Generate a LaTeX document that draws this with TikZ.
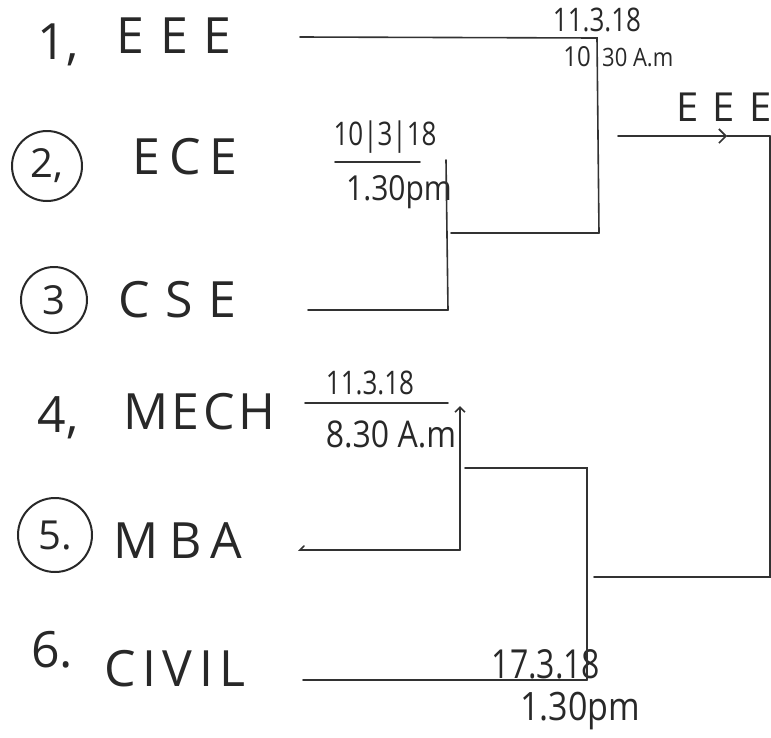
\documentclass[tikz,border=0pt]{standalone}
\usepackage{fontspec}
\setmainfont{Open Sans}
\usetikzlibrary{arrows.meta}
\definecolor{ink}{RGB}{40, 40, 40}
\definecolor{pencil}{RGB}{50, 50, 50}

\begin{document}
\begin{tikzpicture}[
    x=1pt, y=-1pt,
    every node/.style={text=ink, inner sep=0pt},
    team/.style={font=\fontsize{50}{50}\selectfont\addfontfeature{LetterSpace=#1}},
    team/.default=10,
    num/.style={font=\fontsize{50}{50}\selectfont},
    seed/.style={draw=ink, circle, line width=2pt, minimum size=70pt, font=\fontsize{40}{40}\selectfont},
    date/.style={font=\fontsize{#1}{#1}\selectfont, transform shape, yscale=1.25},
    date/.default=26,
    time/.style={font=\fontsize{#1}{#1}\selectfont, transform shape, yscale=1.15},
    time/.default=30,
    bracket/.style={draw=pencil, line width=1.6pt, line cap=round}
]
\useasboundingbox (0,0) rectangle (771,737);

% Seeds and teams
\node[num] (n1) at (58,45) {1,};
\node[team=32] (eee) at (174,36) {EEE};
\node[seed] (n2) at (47,166) {2,};
\node[team=17] (ece) at (185,157) {ECE};
\node[seed, minimum size=66pt] (n3) at (54,300) {3};
\node[team=31] (cse) at (177,300) {CSE};
\node[num] (n4) at (58,418) {4,};
\node[team=7] (mech) at (199,412) {MECH};
\node[seed, minimum size=74pt] (n5) at (55,535) {5.};
\node[team=20] (mba) at (178,541) {MBA};
\node[num] (n6) at (52,650) {6.};
\node[team=13] (civil) at (175,669) {CIVIL};

% Match dates
\node[date] (d1) at (597,20) {11.3.18};
\node[time=24, anchor=east] (t1a) at (591,57) {10};
\node[time=22, anchor=west] (t1b) at (602,58) {30 A.m};
\node[date] (d2) at (385,137) {10|3|18};
\node[time] (t2) at (399,192) {1.30pm};
\node[date] (d4) at (370,383) {11.3.18};
\node[time=32] (t4) at (391,434) {8.30 A.m};
\node[date=32] (d6) at (546,664) {17.3.18};
\node[time=34] (t6) at (580,711) {1.30pm};

% Winner
\node[font=\fontsize{40}{40}\selectfont\addfontfeature{LetterSpace=35}] (win) at (724,107) {EEE};

% Bracket points
\coordinate (eeeS) at (300,37);
\coordinate (eeeJ) at (597,38);
\coordinate (topJ) at (599,233);
\coordinate (eceS) at (335,162);
\coordinate (eceE) at (420,162);
\coordinate (eceJ) at (446,160);
\coordinate (cseS) at (308,310);
\coordinate (cseJ) at (448,310);
\coordinate (midS) at (451,233);
\coordinate (mechS) at (305,403);
\coordinate (mechE) at (448,403);
\coordinate (mbaJ) at (460,550);
\coordinate (mechJ) at (460,406);
\coordinate (mbaS) at (300,550);
\coordinate (mbaH) at (304,546);
\coordinate (lowS) at (465,468);
\coordinate (lowJ) at (587,468);
\coordinate (civS) at (303,680);
\coordinate (civJ) at (587,680);
\coordinate (finS) at (594,577);
\coordinate (finJ) at (770,577);
\coordinate (winJ) at (770,136);
\coordinate (winS) at (618,136);
\coordinate (winM) at (727,136);

% Upper half
\draw[bracket] (eeeS) -- (eeeJ) -- (topJ);
\draw[bracket] (eceS) -- (eceE);
\draw[bracket] (eceJ) -- (cseJ);
\draw[bracket] (cseS) -- (cseJ);
\draw[bracket] (midS) -- (topJ);

% Lower half
\draw[bracket] (mechS) -- (mechE);
\draw[bracket, -{Straight Barb[length=5pt]}] (mbaJ) -- (mechJ);
\draw[bracket] (mbaH) -- (mbaS) -- (mbaJ);
\draw[bracket] (lowS) -- (lowJ) -- (civJ);
\draw[bracket] (civS) -- (civJ);

% Final
\draw[bracket] (finS) -- (finJ) -- (winJ);
\draw[bracket, -{Straight Barb[length=7pt]}] (winS) -- (winM);
\draw[bracket] (winM) -- (winJ);

\end{tikzpicture}
\end{document}
